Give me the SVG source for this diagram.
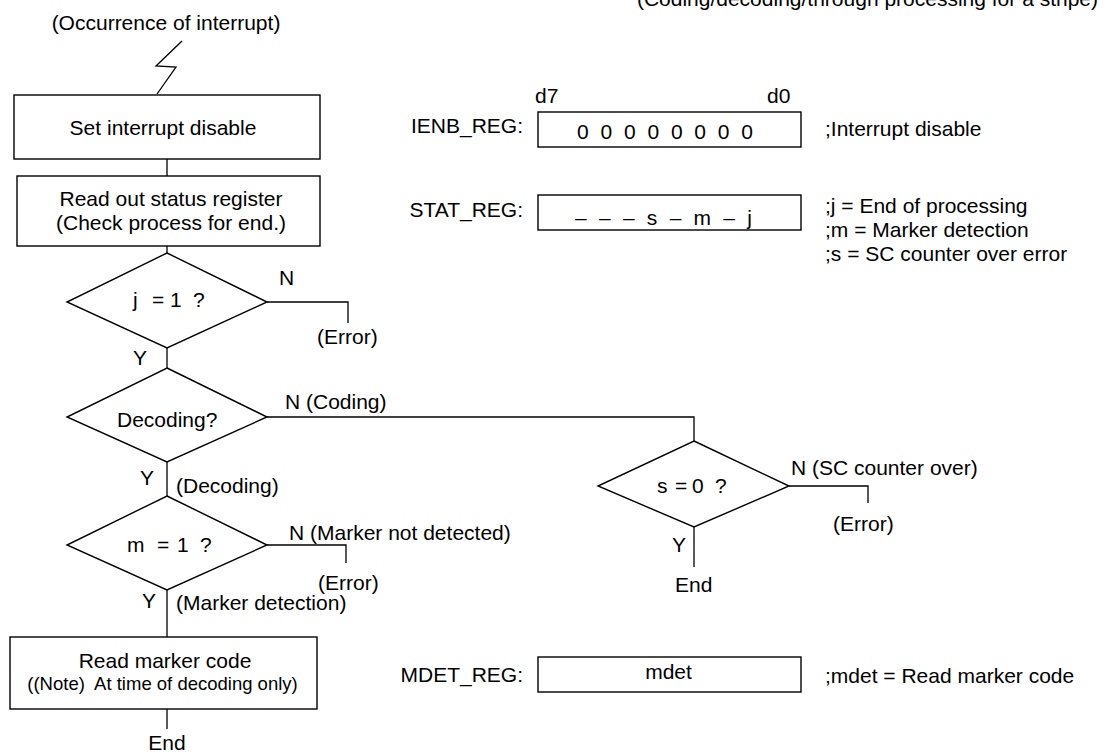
<svg xmlns="http://www.w3.org/2000/svg" width="1109" height="753" viewBox="0 0 1109 753">
<style>
text{font-family:"Liberation Sans",Arial,sans-serif;font-size:21px;fill:#000}
.m{text-anchor:middle}
.e{text-anchor:end}
.s{font-size:18.5px}
.sh{fill:#fff;stroke:#000;stroke-width:1.4}
.ln{fill:none;stroke:#000;stroke-width:1.3}
</style>
<rect width="1109" height="753" fill="#fff"/>
<text class="e" x="1098" y="6">(Coding/decoding/through processing for a stripe)</text>
<g id="start">
<text class="m" x="166" y="30">(Occurrence of interrupt)</text>
<polyline class="ln" points="182,41 156,66 176,67 157,94"/>
</g>
<g id="connectors">
<line class="ln" x1="167" y1="159" x2="167" y2="176"/>
<line class="ln" x1="167" y1="246" x2="167" y2="253"/>
<polyline class="ln" points="267,302 348,302 348,323"/>
<line class="ln" x1="167" y1="348" x2="167" y2="368"/>
<polyline class="ln" points="267,417 694,417 694,441"/>
<line class="ln" x1="167" y1="462" x2="167" y2="496"/>
<polyline class="ln" points="789,486 868,486 868,503"/>
<line class="ln" x1="694" y1="527" x2="694" y2="567"/>
<polyline class="ln" points="267,545 346,545 346,563"/>
<line class="ln" x1="167" y1="590" x2="167" y2="637"/>
<line class="ln" x1="167" y1="709" x2="167" y2="729"/>
</g>
<g id="box1">
<rect class="sh" x="14" y="95" width="306" height="64"/>
<text class="m" x="163" y="135">Set interrupt disable</text>
</g>
<g id="box2">
<rect class="sh" x="17" y="176" width="303" height="70"/>
<text class="m" x="171" y="205.5">Read out status register</text>
<text class="m" x="171" y="229.5">(Check process for end.)</text>
</g>
<g id="dec1">
<polygon class="sh" points="167,253 267,302 167,348 67,302"/>
<text y="307"><tspan x="133">j</tspan><tspan x="152">=</tspan><tspan x="170">1</tspan><tspan x="193">?</tspan></text>
<text x="279" y="285">N</text>
<text x="317" y="344">(Error)</text>
<text x="133" y="365">Y</text>
</g>
<g id="dec2">
<polygon class="sh" points="167,368 267,417 167,462 67,417"/>
<text x="117" y="427">Decoding?</text>
<text x="285" y="409">N (Coding)</text>
<text x="140" y="485">Y</text>
<text x="176" y="493">(Decoding)</text>
</g>
<g id="dec3">
<polygon class="sh" points="694,441 789,486 694,527 598,486"/>
<text y="493"><tspan x="657">s</tspan><tspan x="675">=</tspan><tspan x="692">0</tspan><tspan x="715">?</tspan></text>
<text x="791" y="475">N (SC counter over)</text>
<text x="833" y="531">(Error)</text>
<text x="672" y="552">Y</text>
<text x="675" y="592">End</text>
</g>
<g id="dec4">
<polygon class="sh" points="167,496 267,545 167,590 67,545"/>
<text y="552"><tspan x="127">m</tspan><tspan x="157">=</tspan><tspan x="177">1</tspan><tspan x="200">?</tspan></text>
<text x="289" y="540">N (Marker not detected)</text>
<text x="318" y="590">(Error)</text>
<text x="142" y="608">Y</text>
<text x="176" y="610">(Marker detection)</text>
</g>
<g id="box3">
<rect class="sh" x="10" y="637" width="307" height="72"/>
<text class="m" x="165" y="668">Read marker code</text>
<text class="m s" x="162.5" y="690" xml:space="preserve">((Note)  At time of decoding only)</text>
<text class="m" x="167" y="750">End</text>
</g>
<g id="ienb">
<text x="535" y="103">d7</text>
<text x="767" y="103">d0</text>
<text class="e" x="523" y="133">IENB_REG:</text>
<rect class="sh" x="538" y="112" width="263" height="35"/>
<text x="577" y="139" textLength="176" lengthAdjust="spacing">0 0 0 0 0 0 0 0</text>
<text x="825" y="136">;Interrupt disable</text>
</g>
<g id="stat">
<text class="e" x="523" y="217">STAT_REG:</text>
<rect class="sh" x="538" y="195" width="263" height="35"/>
<text x="575" y="225" textLength="177" lengthAdjust="spacing">– – – s – m – j</text>
<text x="825" y="213">;j = End of processing</text>
<text x="825" y="237">;m = Marker detection</text>
<text x="825" y="261">;s = SC counter over error</text>
</g>
<g id="mdet">
<text class="e" x="523" y="682">MDET_REG:</text>
<rect class="sh" x="538" y="657" width="263" height="35"/>
<text class="m" x="668.5" y="679">mdet</text>
<text x="825" y="683">;mdet = Read marker code</text>
</g>
</svg>
